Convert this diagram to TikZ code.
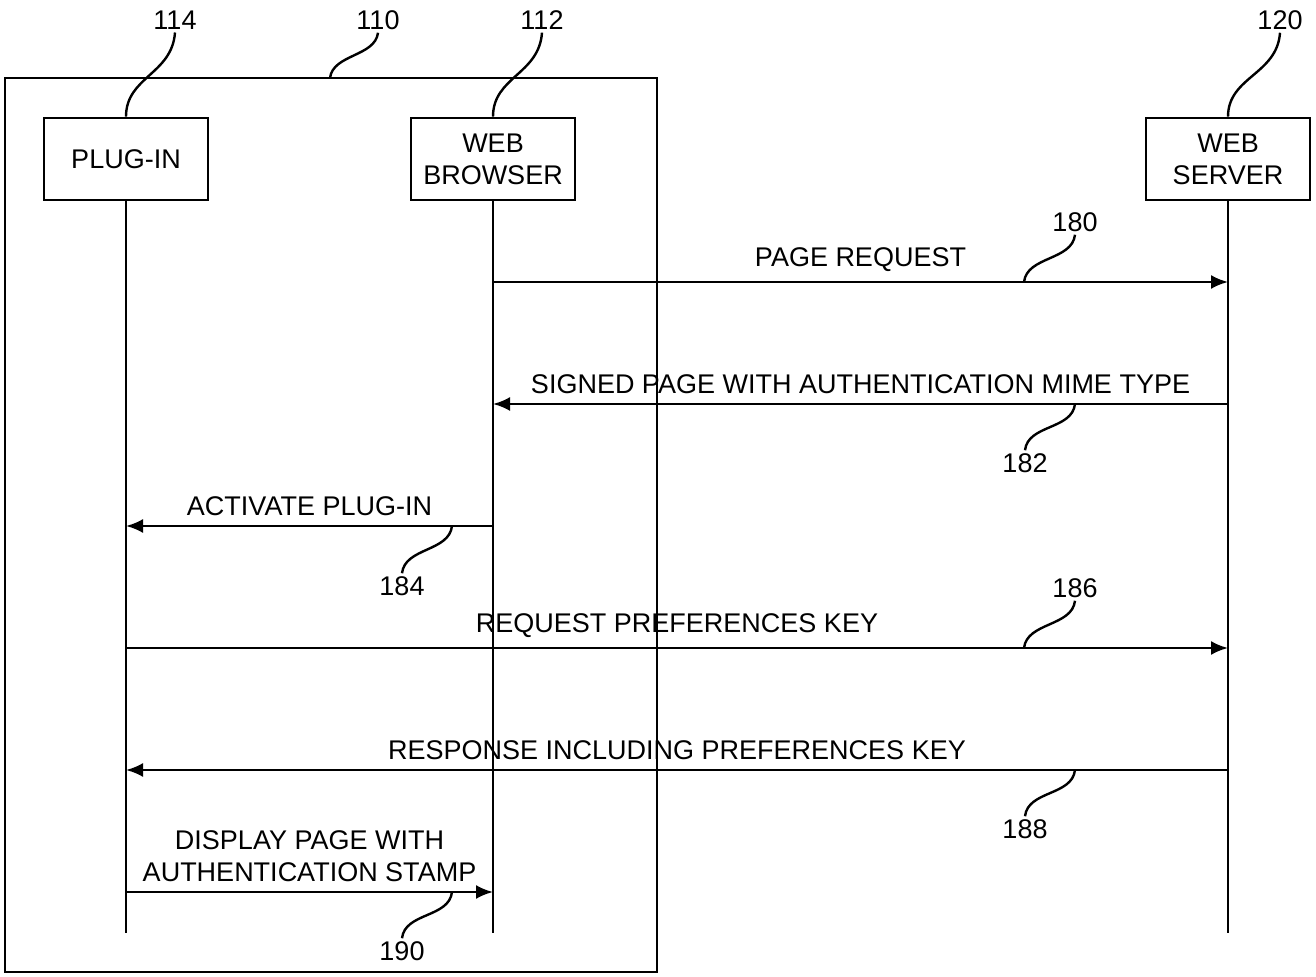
\documentclass[tikz,border=0pt]{standalone}
\usepackage{fontspec}
\setmainfont{Liberation Sans}
\usetikzlibrary{arrows.meta}
\begin{document}
\begin{tikzpicture}[x=0.5pt,y=0.5pt,yscale=-1,line width=1.2pt,
	every node/.style={font=\fontsize{13.5}{16}\selectfont},
	actor/.style={draw,line width=1.3pt,minimum width=82pt,minimum height=41pt,align=center,inner sep=2pt},
	refnum/.style={inner sep=1pt},
	msg/.style={-{Latex[length=8.5pt,width=7pt]}},
	msglabel/.style={midway,above=3.5pt,inner sep=1pt,align=center}]
	\useasboundingbox (0,0) rectangle (1316,977);
	
	%Rectangle [id:client110] 
	\draw [line width=1.3pt] (5,78) rectangle (657,972) ;
	\coordinate (a110) at (330,78);
	
	% Lifeline Nodes
	\node [actor] (plugin) at (126,159) {PLUG-IN};
	\node [actor] (browser) at (493,159) {WEB\\BROWSER};
	\node [actor] (server) at (1228,159) {WEB\\SERVER};
	\coordinate (plugin-end) at (126,933);
	\coordinate (browser-end) at (493,933);
	\coordinate (server-end) at (1228,933);
	
	%Straight Lines [id:lifelines] 
	\draw (plugin) -- (plugin-end) ;
	\draw (browser) -- (browser-end) ;
	\draw (server) -- (server-end) ;
	
	% Text Node
	\node [refnum] (n114) at (175,20) {114};
	% Text Node
	\node [refnum] (n110) at (378,20) {110};
	% Text Node
	\node [refnum] (n112) at (542,20) {112};
	% Text Node
	\node [refnum] (n120) at (1280,20) {120};
	
	%Curve Lines [id:leaders top] 
	\draw (n114.south) .. controls +(-3,42) and +(0,-40) .. (plugin.north) ;
	\draw (n110.south) .. controls +(-3,24) and +(3,-24) .. (a110) ;
	\draw (n112.south) .. controls +(-3,42) and +(0,-40) .. (browser.north) ;
	\draw (n120.south) .. controls +(-3,42) and +(0,-40) .. (server.north) ;
	
	% Message rows
	\coordinate (y180) at (0,282);
	\coordinate (y182) at (0,404);
	\coordinate (y184) at (0,526);
	\coordinate (y186) at (0,648);
	\coordinate (y188) at (0,770);
	\coordinate (y190) at (0,892);
	
	%Straight Lines [id:messages] 
	\draw [msg] (browser |- y180) -- node [msglabel] {PAGE REQUEST} (server |- y180) ;
	\draw [msg] (server |- y182) -- node [msglabel] {SIGNED PAGE WITH AUTHENTICATION MIME TYPE} (browser |- y182) ;
	\draw [msg] (browser |- y184) -- node [msglabel] {ACTIVATE PLUG-IN} (plugin |- y184) ;
	\draw [msg] (plugin |- y186) -- node [msglabel] {REQUEST PREFERENCES KEY} (server |- y186) ;
	\draw [msg] (server |- y188) -- node [msglabel] {RESPONSE INCLUDING PREFERENCES KEY} (plugin |- y188) ;
	\draw [msg] (plugin |- y190) -- node [msglabel] {DISPLAY PAGE WITH\\AUTHENTICATION STAMP} (browser |- y190) ;
	
	% Text Node
	\node [refnum] (n180) at (1075,222) {180};
	% Text Node
	\node [refnum] (n182) at (1025,463) {182};
	% Text Node
	\node [refnum] (n184) at (402,586) {184};
	% Text Node
	\node [refnum] (n186) at (1075,588) {186};
	% Text Node
	\node [refnum] (n188) at (1025,829) {188};
	% Text Node
	\node [refnum] (n190) at (402,951) {190};
	
	\coordinate (a180) at (1024,282);
	\coordinate (a182) at (1075,404);
	\coordinate (a184) at (452,526);
	\coordinate (a186) at (1024,648);
	\coordinate (a188) at (1075,770);
	\coordinate (a190) at (452,892);
	
	%Curve Lines [id:leaders messages] 
	\draw (n180.south) .. controls +(-3,26) and +(3,-26) .. (a180) ;
	\draw (n182.north) .. controls +(3,-26) and +(-3,26) .. (a182) ;
	\draw (n184.north) .. controls +(3,-26) and +(-3,26) .. (a184) ;
	\draw (n186.south) .. controls +(-3,26) and +(3,-26) .. (a186) ;
	\draw (n188.north) .. controls +(3,-26) and +(-3,26) .. (a188) ;
	\draw (n190.north) .. controls +(3,-26) and +(-3,26) .. (a190) ;
\end{tikzpicture}
\end{document}
